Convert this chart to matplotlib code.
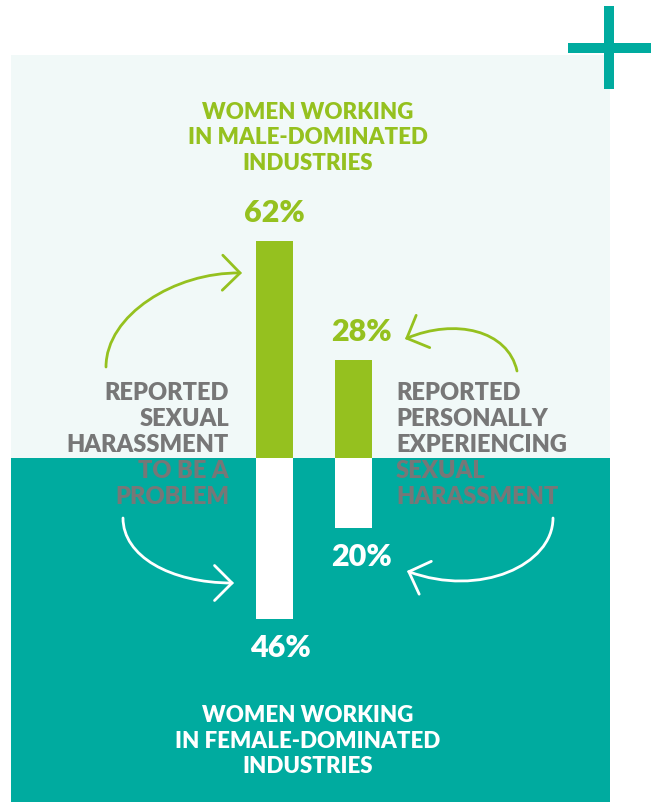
import matplotlib

matplotlib.use("Agg")
import matplotlib.pyplot as plt
from matplotlib.patches import Rectangle, FancyArrowPatch
from matplotlib.path import Path

plt.rcParams["font.family"] = ["Lato", "DejaVu Sans"]

# share of women, by industry type
categories = ["problem", "personal"]
male_dominated = [62, 28]
female_dominated = [46, 20]

GREEN = "#95c11f"
TEAL = "#00ab9f"
PALE = "#f1f9f8"
GREY = "#777777"

W, H = 657, 802
BASE = 458          # pixel row of the zero line
PX_PER_PCT = 3.5

fig = plt.figure(figsize=(W / 100, H / 100), dpi=100)
fig.patch.set_facecolor("white")

# backdrop layer in pixel coordinates
bg = fig.add_axes([0, 0, 1, 1])
bg.set_xlim(0, W)
bg.set_ylim(H, 0)
bg.axis("off")

bg.add_patch(Rectangle((11, 55), 599, BASE - 55, color=PALE, lw=0))
bg.add_patch(Rectangle((11, BASE), 599, H - BASE, color=TEAL, lw=0))
bg.add_patch(Rectangle((604, 6), 10, 83, color=TEAL, lw=0))
bg.add_patch(Rectangle((568, 43), 83, 10, color=TEAL, lw=0))

# bars: up = male-dominated, down = female-dominated
ax = fig.add_axes([0, 0, 1, 1])
ax.set_xlim(0, W)
ax.set_ylim(-(H - BASE) / PX_PER_PCT, BASE / PX_PER_PCT)
ax.patch.set_alpha(0)
ax.axis("off")

xs = [274.5, 353.5]
ax.bar(xs, male_dominated, width=37, color=GREEN, lw=0, zorder=3)
ax.bar(xs, [-v for v in female_dominated], width=37, color="white", lw=0, zorder=3)

# small horizontal nudges for the value labels, in points
up_dx = [0, 6]
down_dx = [4, 6]
for x, v, dx in zip(xs, male_dominated, up_dx):
    ax.annotate(f"{v}%", (x, v), xytext=(dx, 20), textcoords="offset points",
                ha="center", va="center", fontsize=22, fontweight="heavy", color=GREEN)
for x, v, dx in zip(xs, female_dominated, down_dx):
    ax.annotate(f"{v}%", (x, -v), xytext=(dx, -21), textcoords="offset points",
                ha="center", va="center", fontsize=22, fontweight="heavy", color="white")

# headings
head_kw = dict(ha="center", va="center", fontsize=16, fontweight="heavy",
               linespacing=1.27)
bg.text(308, 138, "WOMEN WORKING\nIN MALE-DOMINATED\nINDUSTRIES", color=GREEN, **head_kw)
bg.text(308, 741, "WOMEN WORKING\nIN FEMALE-DOMINATED\nINDUSTRIES", color="white", **head_kw)

lab_kw = dict(va="center", fontsize=17, fontweight="heavy", color=GREY,
              linespacing=1.22, zorder=5)
bg.text(229, 445, "REPORTED\nSEXUAL\nHARASSMENT\nTO BE A\nPROBLEM", ha="right",
        multialignment="right", **lab_kw)
bg.text(396, 445, "REPORTED\nPERSONALLY\nEXPERIENCING\nSEXUAL\nHARASSMENT", ha="left",
        multialignment="left", **lab_kw)


def curved_arrow(pts, color):
    path = Path(pts, [Path.MOVETO, Path.CURVE4, Path.CURVE4, Path.CURVE4])
    arr = FancyArrowPatch(path=path, arrowstyle="->,head_length=0.45,head_width=0.45",
                          mutation_scale=28, lw=2.0, color=color,
                          capstyle="round", joinstyle="miter")
    bg.add_patch(arr)


curved_arrow([(106, 367), (106, 315), (175, 272), (242, 273)], GREEN)
curved_arrow([(517, 371), (508, 330), (455, 318), (405, 339)], GREEN)
curved_arrow([(123, 518), (123, 556), (170, 583), (234, 583)], "white")
curved_arrow([(553, 518), (553, 565), (480, 598), (407, 571)], "white")

fig.savefig("out.png", dpi=100)
